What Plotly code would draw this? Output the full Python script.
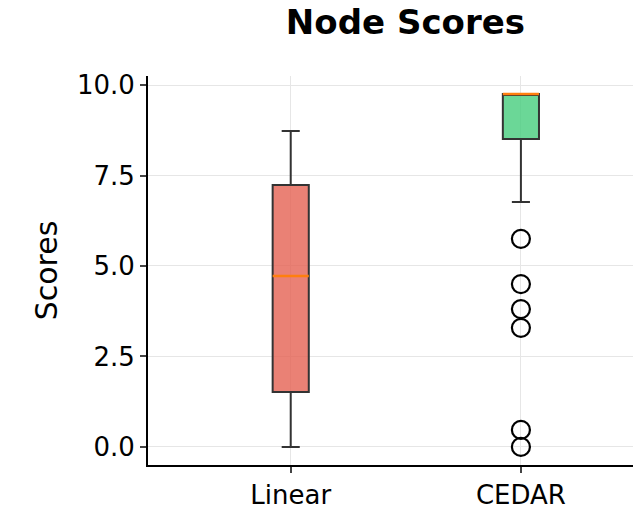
import plotly.graph_objects as go

names = ["Linear", "CEDAR"]
pos = [1, 2]
q1 = [1.52, 8.51]
med = [4.72, 9.75]
q3 = [7.24, 9.75]
lo = [0.0, 6.77]
hi = [8.73, 9.75]
fills = ["rgba(229,98,82,0.8)", "rgba(70,205,125,0.8)"]
cedar_out = [5.75, 4.5, 3.81, 3.29, 0.47, 0.0]

bw = 0.157
fig = go.Figure()
for i in range(2):
    fig.add_trace(go.Box(x=[pos[i]], q1=[q1[i]], median=[med[i]], q3=[q3[i]],
                         lowerfence=[lo[i]], upperfence=[hi[i]],
                         width=bw, whiskerwidth=0.5, fillcolor=fills[i],
                         line=dict(color="#333333", width=2), boxpoints=False,
                         hoverinfo="skip"))
    # matplotlib style orange median
    fig.add_trace(go.Scatter(x=[pos[i] - bw / 2, pos[i] + bw / 2], y=[med[i], med[i]],
                             mode="lines", line=dict(color="#ff7f0e", width=2.5)))

fig.add_trace(go.Scatter(x=[pos[1]] * len(cedar_out), y=cedar_out, mode="markers",
                         marker=dict(symbol="circle-open", size=18,
                                     line=dict(color="black", width=2.2), color="black")))

fig.update_layout(
    width=641, height=519, showlegend=False,
    plot_bgcolor="white", paper_bgcolor="white",
    margin=dict(l=140, r=13, t=68, b=62),
    font=dict(family="DejaVu Sans", color="black"),
    title=dict(text="<b>Node Scores</b>", x=0.62, xanchor="center", y=0.995,
               yanchor="top", font=dict(size=34)),
)
fig.update_xaxes(range=[0.38, 2.5], tickvals=pos, ticktext=names, tickfont=dict(size=26),
                 showgrid=True, gridcolor="#e6e6e6", showline=True, linecolor="black",
                 linewidth=2, ticks="outside", ticklen=6, tickwidth=1.5, zeroline=False)
fig.update_yaxes(range=[-0.5, 10.25], tickvals=[0, 2.5, 5, 7.5, 10],
                 ticktext=["0.0", "2.5", "5.0", "7.5", "10.0"], tickfont=dict(size=26),
                 title=dict(text="Scores", font=dict(size=30), standoff=10),
                 showgrid=True, gridcolor="#e6e6e6", showline=True, linecolor="black",
                 linewidth=2, ticks="outside", ticklen=6, tickwidth=1.5, zeroline=False)

fig.write_html("out.html")
